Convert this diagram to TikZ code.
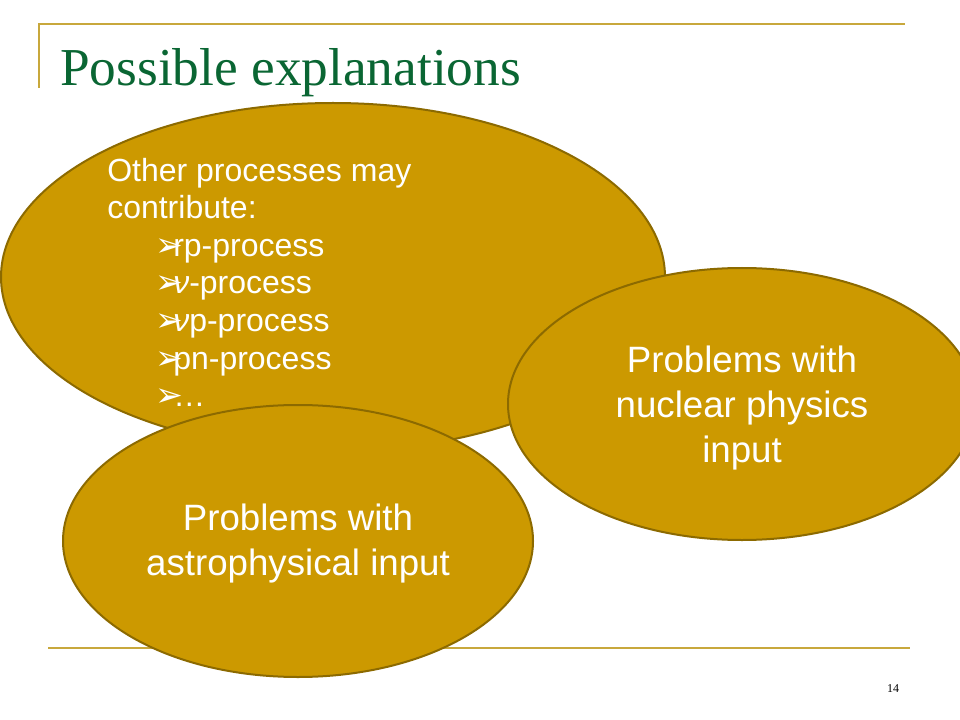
\documentclass[tikz,border=0pt]{standalone}
\usepackage{fontspec}
\setmainfont{Liberation Serif}
\newfontfamily\arialf{Liberation Sans}
\newfontfamily\dejavuf{DejaVu Sans}
\usetikzlibrary{shapes.geometric}
\definecolor{goldfill}{RGB}{204,153,0}
\definecolor{goldedge}{RGB}{140,106,0}
\definecolor{ruleline}{RGB}{200,168,60}
\definecolor{titlegreen}{RGB}{10,102,51}
\tikzset{
  blob/.style={ellipse, draw=goldedge, fill=goldfill, line width=1.5pt, inner sep=0pt, outer sep=0pt},
  rulestyle/.style={draw=ruleline, line width=2.2pt},
  smalltext/.style={anchor=base west, inner sep=0pt, text=white, font=\arialf\fontsize{24}{28}\selectfont},
  bulletmark/.style={anchor=base west, inner sep=0pt, text=white, font=\dejavuf\fontsize{25}{28}\selectfont},
  bigtext/.style={anchor=base, inner sep=0pt, text=white, font=\arialf\fontsize{27.5}{32}\selectfont},
}
\begin{document}
\begin{tikzpicture}[x=0.75pt,y=-0.75pt]
\useasboundingbox (0,0) rectangle (960,720);
\clip (0,0) rectangle (960,720);
\fill[white] (0,0) rectangle (960,720);
% frame lines
\coordinate (tl) at (39,24);
\coordinate (tr) at (905,24);
\coordinate (bl) at (39,88);
\draw[rulestyle] (bl) -- (tl) -- (tr);
\coordinate (fl) at (48,648);
\coordinate (fr) at (910,648);
\draw[rulestyle] (fl) -- (fr);
% title
\node[anchor=base west, inner sep=0pt, text=titlegreen, font=\fontsize{40}{48}\selectfont] (title) at (60,86) {Possible explanations};
% ellipses
\node[blob, minimum width=498pt, minimum height=261pt] (big) at (333,277) {};
\node[blob, minimum width=351pt, minimum height=204pt] (nuc) at (742,404) {};
\node[blob, minimum width=352.5pt, minimum height=204pt] (astro) at (298,541) {};
% big ellipse text
\node[smalltext] (l1) at (107,181.5) {Other processes may};
\node[smalltext] (l2) at (107,219) {contribute:};
\node[bulletmark] (b1) at (155,256.5) {➢};
\node[smalltext] (l3) at (173,256.5) {rp-process};
\node[bulletmark] (b2) at (155,294) {➢};
\node[smalltext] (l4) at (173,294) {\itshape ν\upshape-process};
\node[bulletmark] (b3) at (155,331.5) {➢};
\node[smalltext] (l5) at (173,331.5) {\itshape ν\upshape p-process};
\node[bulletmark] (b4) at (155,369) {➢};
\node[smalltext] (l6) at (173,369) {pn-process};
\node[bulletmark] (b5) at (155,406.5) {➢};
\node[smalltext] (l7) at (173,406.5) {…};
% nuclear
\node[bigtext] (n1) at (742,372) {Problems with};
\node[bigtext] (n2) at (742,417) {nuclear physics};
\node[bigtext] (n3) at (742,462) {input};
% astro
\node[bigtext] (a1) at (298,530) {Problems with};
\node[bigtext] (a2) at (298,575) {astrophysical input};
% page number
\node[anchor=base, inner sep=0pt, font=\fontsize{9}{11}\selectfont] (pg) at (893,692) {14};
\end{tikzpicture}
\end{document}
